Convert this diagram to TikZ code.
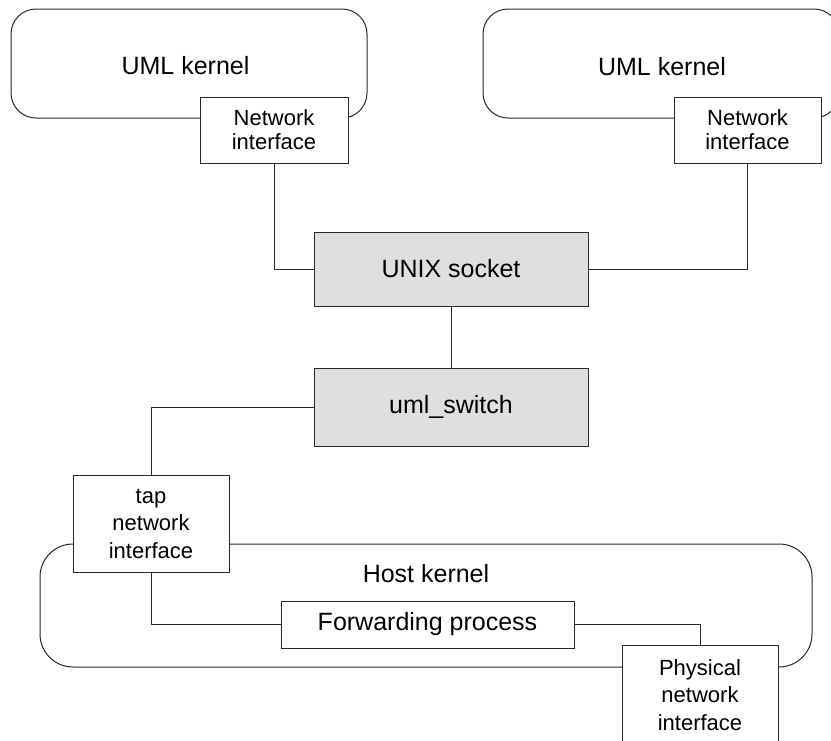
\documentclass[tikz,border=0pt]{standalone}
\usepackage{fontspec}
\setmainfont{Liberation Sans}
\definecolor{sockgray}{RGB}{223,223,223}
\definecolor{linec}{RGB}{40,40,40}
\begin{document}
\begin{tikzpicture}[x=1pt,y=-1pt,
  every node/.style={inner sep=0pt, outer sep=0pt},
  kernel/.style={draw=linec, line width=1pt, rounded corners=25pt},
  box/.style={draw=linec, line width=1pt, fill=white, align=center, font=\fontsize{22}{24}\selectfont},
  tall/.style={font=\fontsize{22}{27.5}\selectfont},
  graybox/.style={draw=linec, line width=1pt, fill=sockgray, align=center, font=\fontsize{25}{30}\selectfont},
  big/.style={font=\fontsize{25}{30}\selectfont},
  conn/.style={draw=linec, line width=1pt}]
\clip (0,0) rectangle (831,740);
% kernels
\node[kernel, minimum width=356pt, minimum height=109pt] (k1) at (189,63.5) {};
\node[kernel, minimum width=356pt, minimum height=109pt] (k2) at (661,63.5) {};
\node[big, anchor=base] (k1t) at (185.5,74) {UML kernel};
\node[big, anchor=base] (k2t) at (662,75) {UML kernel};
\node[kernel, rounded corners=33pt, minimum width=772pt, minimum height=123pt] (host) at (426,605.5) {};
\node[big, anchor=base] (hostt) at (426,582) {Host kernel};
% boxes
\node[box, minimum width=148pt, minimum height=66pt] (ni1) at (274,130) {Network\\interface};
\node[box, minimum width=147pt, minimum height=66pt] (ni2) at (747.5,130) {Network\\interface};
\node[graybox, minimum width=274pt, minimum height=74pt] (unix) at (451,269) {UNIX socket};
\node[graybox, minimum width=274pt, minimum height=78pt] (sw) at (451,407) {uml\_switch};
\node[box, tall, minimum width=156pt, minimum height=97pt] (tap) at (151,523.5) {tap\\network\\interface};
\node[box, minimum width=293pt, minimum height=47pt, font=\fontsize{25}{30}\selectfont] (fwd) at (427.5,624.5) {Forwarding process};
\node[box, minimum width=156pt, minimum height=110pt] (phys) at (700,700) {};
\node[tall, align=center, anchor=base] (physt) at (700,730) {Physical\\network\\interface};
% connectors
\draw[conn] (ni1.south) |- (unix.west);
\draw[conn] (ni2.south) |- (unix.east);
\draw[conn] (unix.south) -- (sw.north);
\draw[conn] (sw.west) -| (tap.north);
\draw[conn] (tap.south) |- (fwd.west);
\draw[conn] (fwd.east) -| (phys.north);
\end{tikzpicture}
\end{document}
